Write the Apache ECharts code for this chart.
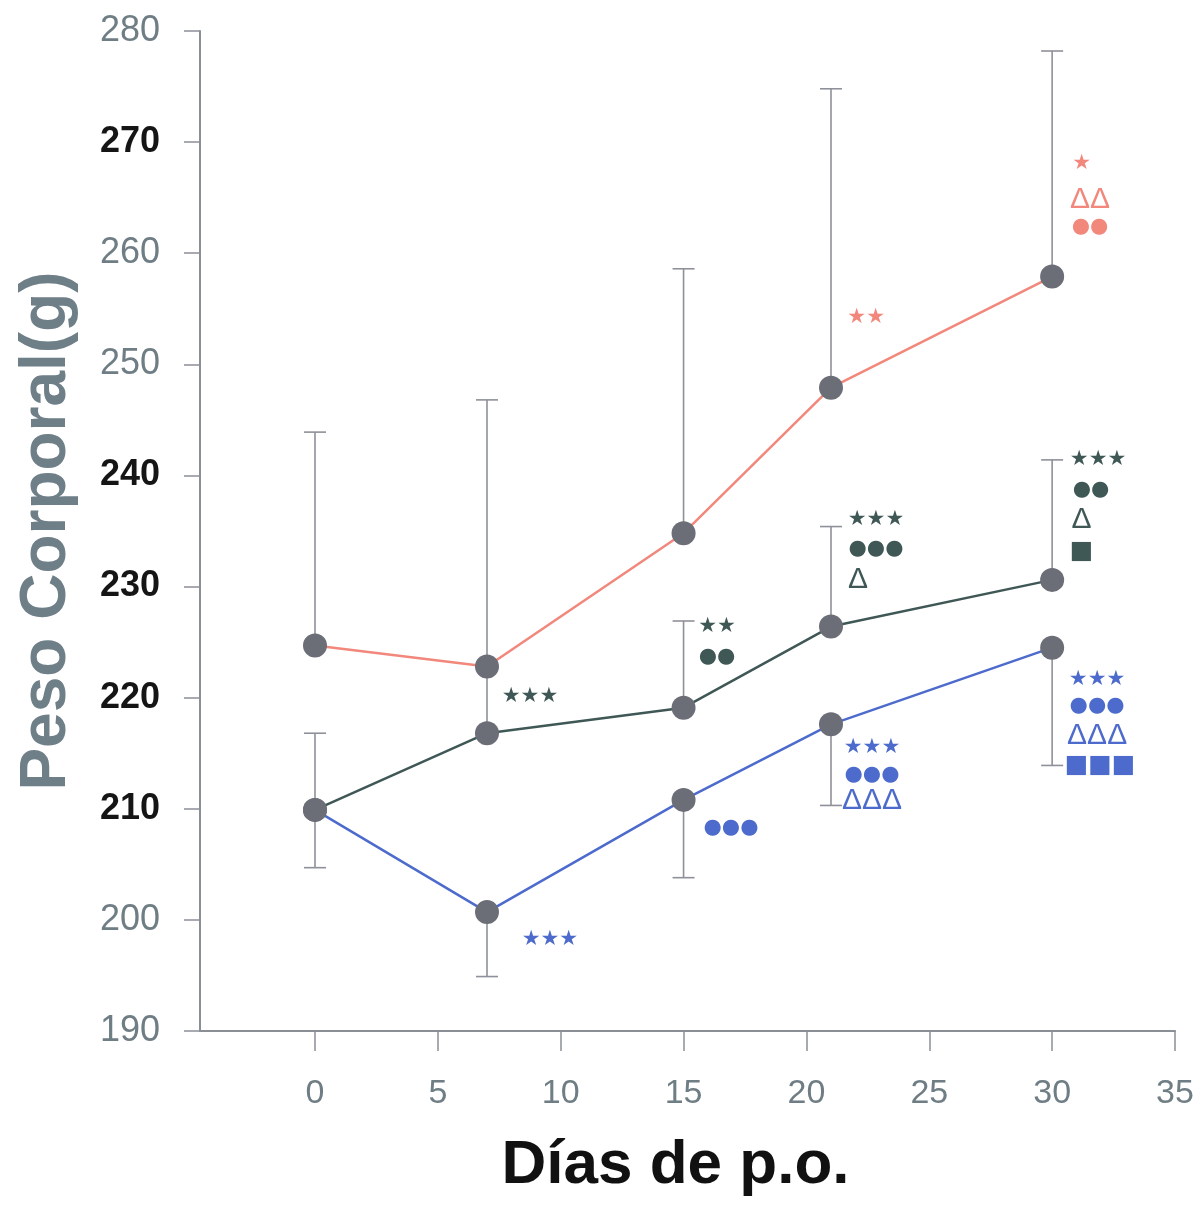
<!DOCTYPE html>
<html>
<head>
<meta charset="utf-8">
<script src="https://cdn.jsdelivr.net/npm/echarts@6/dist/echarts.min.js"></script>
<style>html,body{margin:0;padding:0;background:#fff}#c{width:1199px;height:1207px}</style>
</head>
<body>
<div id="c"></div>
<script>
const days = [0, 7, 15, 21, 30];
const redMean = [224.7, 222.8, 234.8, 247.9, 257.9];
const redUpper = [243.9, 246.8, 258.6, 274.8, 278.2];
const greenMean = [209.9, 216.8, 219.1, 226.4, 230.6];
const greenUpper = [216.8, 222.5, 226.9, 235.4, 241.4];
const blueMean = [209.9, 200.7, 210.8, 217.6, 224.5];
const blueLower = [204.7, 194.9, 203.8, 210.3, 213.9];
const xTicks = [0, 5, 10, 15, 20, 25, 30, 35];
const darkYLabels = [270, 240, 230, 220, 210];

// annotations: [x, y, text]
const annRed = [
  [22.43, 254.2, '★★'],
  [31.2, 268.1, '★'],
  [31.54, 264.8, 'ΔΔ'],
  [31.54, 262.4, '●●']
];
const annGreen = [
  [8.75, 220.1, '★★★'],
  [16.36, 226.4, '★★'],
  [16.36, 223.7, '●●'],
  [22.83, 236.0, '★★★'],
  [22.83, 233.4, '●●●'],
  [22.1, 230.6, 'Δ'],
  [31.87, 241.4, '★★★'],
  [31.58, 238.7, '●●'],
  [31.2, 236.0, 'Δ'],
  [31.2, 233.2, '■']
];
const annBlue = [
  [9.56, 198.2, '★★★'],
  [16.93, 208.3, '●●●'],
  [22.67, 215.5, '★★★'],
  [22.67, 213.1, '●●●'],
  [22.67, 210.7, 'ΔΔΔ'],
  [31.83, 221.6, '★★★'],
  [31.83, 219.3, '●●●'],
  [31.83, 216.6, 'ΔΔΔ'],
  [31.95, 213.9, '■■■']
];

const RED = '#f2877c', GREEN = '#3f5856', BLUE = '#4d6bcc', MARK = '#6b6d77', BAR = '#8e9199';

function pairs(xs, ys) { return xs.map((x, i) => [x, ys[i]]); }
function bars(xs, m, e) { return xs.map((x, i) => [x, m[i], e[i]]); }

function errRender(params, api) {
  const x = api.value(0), m = api.value(1), e = api.value(2);
  const p1 = api.coord([x, m]), p2 = api.coord([x, e]);
  const w = 11;
  return {
    type: 'group',
    children: [
      { type: 'line', shape: { x1: p1[0], y1: p1[1], x2: p2[0], y2: p2[1] }, style: { stroke: BAR, lineWidth: 1.6 } },
      { type: 'line', shape: { x1: p2[0] - w, y1: p2[1], x2: p2[0] + w, y2: p2[1] }, style: { stroke: BAR, lineWidth: 1.6 } }
    ]
  };
}

function glyphFont(t) {
  if (t.indexOf('★') >= 0) return 'bold 21px "DejaVu Sans"';
  if (t.indexOf('●') >= 0) return '21px "DejaVu Sans"';
  if (t.indexOf('Δ') >= 0) return '30px "Liberation Sans"';
  return '25px "DejaVu Sans"';
}
function annRender(list, color) {
  return function (params, api) {
    const p = api.coord([api.value(0), api.value(1)]);
    const t = list[params.dataIndex][2];
    return {
      type: 'text',
      style: {
        text: t, x: p[0], y: p[1], fill: color,
        font: glyphFont(t), align: 'center', verticalAlign: 'middle'
      }
    };
  };
}

const chart = echarts.init(document.getElementById('c'));
chart.setOption({
  backgroundColor: '#fff',
  animation: false,
  grid: { left: 200, right: 24, top: 31, bottom: 176 },
  xAxis: {
    type: 'value', min: -4.68, max: 35,
    axisLine: { onZero: false, lineStyle: { color: '#8a8f96', width: 2 } },
    axisTick: { show: true, customValues: xTicks, length: 20, lineStyle: { color: '#8a8f96', width: 1.5 } },
    axisLabel: { customValues: xTicks, margin: 46, fontSize: 34, color: '#6f7d84', fontFamily: 'Liberation Sans' },
    splitLine: { show: false },
    name: 'Días de p.o.', nameLocation: 'middle', nameGap: 135,
    nameTextStyle: { fontSize: 62, fontWeight: 'bold', color: '#111', fontFamily: 'Liberation Sans', verticalAlign: 'middle', padding: [0, 24, 0, 0] }
  },
  yAxis: {
    type: 'value', min: 190, max: 280, interval: 10,
    axisLine: { onZero: false, lineStyle: { color: '#8a8f96', width: 2 } },
    axisTick: { length: 16, lineStyle: { color: '#8a8f96', width: 1.5 } },
    axisLabel: {
      margin: 40, fontSize: 36, fontFamily: 'Liberation Sans',
      formatter: v => (darkYLabels.indexOf(v) >= 0 ? '{d|' + v + '}' : '{g|' + v + '}'),
      rich: {
        d: { fontSize: 36, fontWeight: 'bold', color: '#151515', fontFamily: 'Liberation Sans' },
        g: { fontSize: 36, color: '#6f7d84', fontFamily: 'Liberation Sans' }
      }
    },
    splitLine: { show: false },
    name: 'Peso Corporal(g)', nameLocation: 'middle', nameGap: 153, nameRotate: 90,
    nameTextStyle: { fontSize: 64, fontWeight: 'bold', color: '#6e7f88', fontFamily: 'Liberation Sans', verticalAlign: 'middle' }
  },
  series: [
    { type: 'custom', renderItem: errRender, data: bars(days, redMean, redUpper), z: 1, encode: { x: 0, y: [1, 2] } },
    { type: 'custom', renderItem: errRender, data: bars(days, greenMean, greenUpper), z: 1, encode: { x: 0, y: [1, 2] } },
    { type: 'custom', renderItem: errRender, data: bars(days, blueMean, blueLower), z: 1, encode: { x: 0, y: [1, 2] } },
    { type: 'line', data: pairs(days, redMean), z: 3, symbol: 'circle', symbolSize: 24, lineStyle: { color: RED, width: 2.5 }, itemStyle: { color: MARK } },
    { type: 'line', data: pairs(days, greenMean), z: 3, symbol: 'circle', symbolSize: 24, lineStyle: { color: GREEN, width: 2.5 }, itemStyle: { color: MARK } },
    { type: 'line', data: pairs(days, blueMean), z: 3, symbol: 'circle', symbolSize: 24, lineStyle: { color: BLUE, width: 2.5 }, itemStyle: { color: MARK } },
    { type: 'custom', renderItem: annRender(annRed, RED), data: annRed.map(a => [a[0], a[1]]), z: 5 },
    { type: 'custom', renderItem: annRender(annGreen, GREEN), data: annGreen.map(a => [a[0], a[1]]), z: 5 },
    { type: 'custom', renderItem: annRender(annBlue, BLUE), data: annBlue.map(a => [a[0], a[1]]), z: 5 }
  ]
});
</script>
</body>
</html>
